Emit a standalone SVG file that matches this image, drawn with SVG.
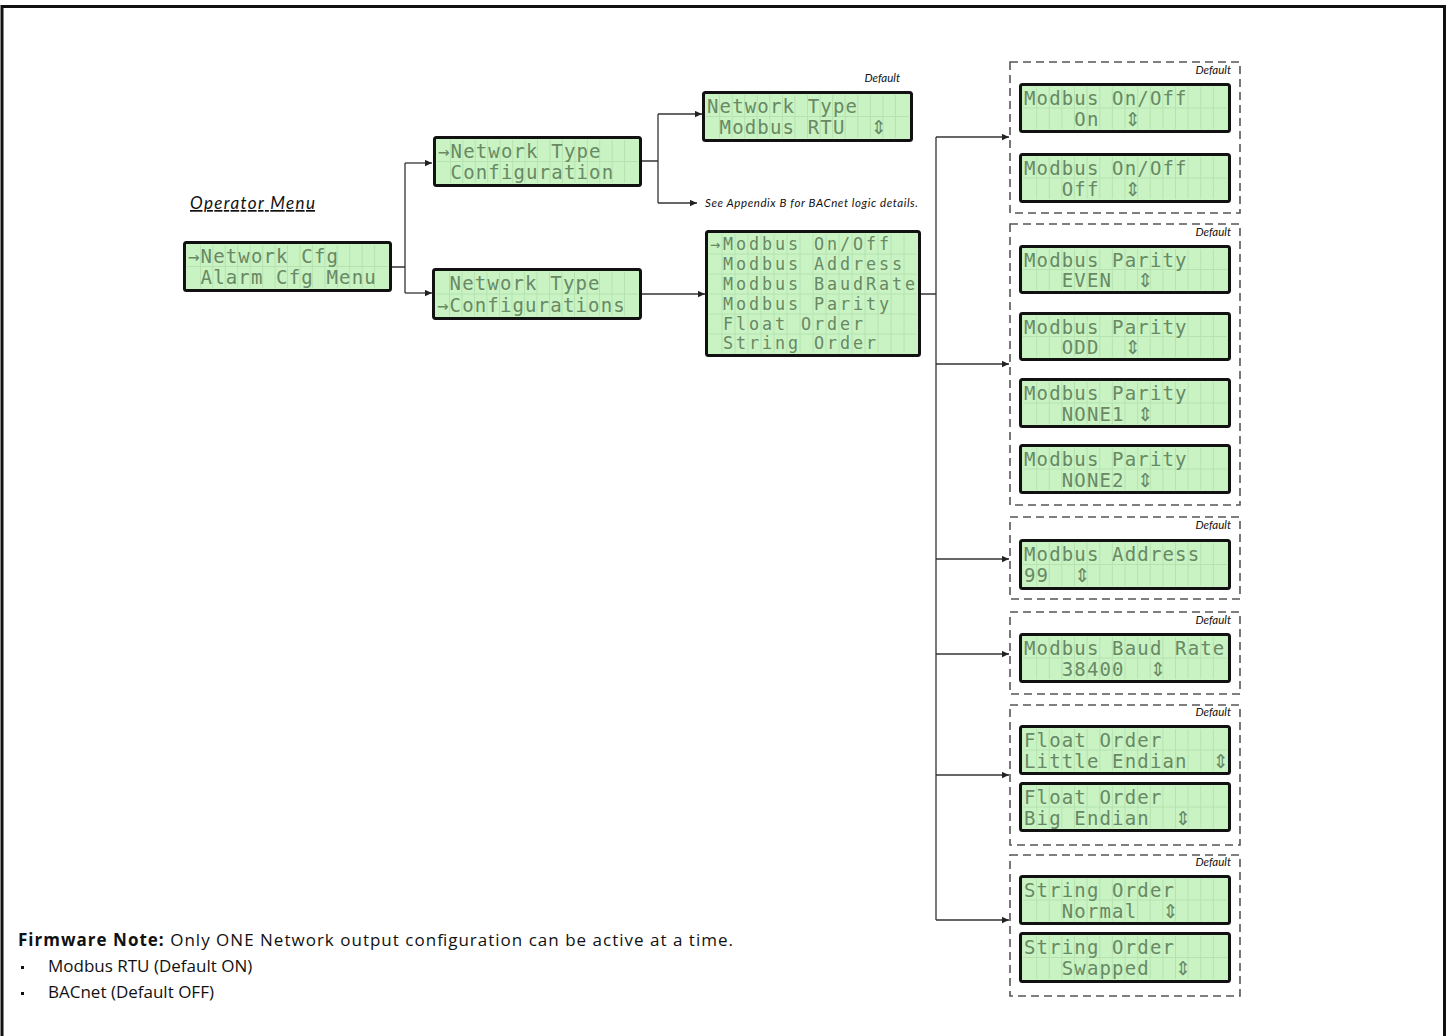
<svg xmlns="http://www.w3.org/2000/svg" xmlns:xlink="http://www.w3.org/1999/xlink" width="1449" height="1036" viewBox="0 0 1449 1036">
<style>
.lcdt{font-family:"DejaVu Sans Mono","Liberation Mono",monospace;font-size:19px;fill:#688964;letter-spacing:1.15px}
.lcdt6{font-family:"DejaVu Sans Mono","Liberation Mono",monospace;font-size:16.8px;fill:#688964;letter-spacing:2.9px}
.ud{font-family:"DejaVu Sans",sans-serif;font-size:19px}
.note{font-family:Lato,"Liberation Sans",sans-serif;font-style:italic;font-size:11.5px;fill:#111}
.grp{fill:none;stroke:#555;stroke-width:1.6;stroke-dasharray:8 5}
.con{fill:none;stroke:#333;stroke-width:1.3}
.fw{font-family:"Open Sans","Liberation Sans",sans-serif;font-size:17px;fill:#111}
</style>
<defs>
<marker id="ah" viewBox="0 0 10 10" refX="10" refY="5" markerWidth="8" markerHeight="7" markerUnits="userSpaceOnUse" orient="auto"><path d="M0,0.5 L10,5 L0,9.5 z" fill="#222"/></marker>
<symbol id="lcd" viewBox="0 0 211 50" preserveAspectRatio="none">
<rect x="1.5" y="1.5" width="208" height="47" rx="2" fill="#c9f3c3" stroke="#111" stroke-width="3"/>
<path d="M17.6,4V46M30.1,4V46M42.7,4V46M55.2,4V46M67.8,4V46M80.4,4V46M92.9,4V46M105.5,4V46M118.1,4V46M130.6,4V46M143.2,4V46M155.8,4V46M168.3,4V46M180.9,4V46M193.4,4V46M4,25H207" stroke="#b6e2b0" stroke-width="1" fill="none"/>
</symbol>
</defs>
<rect x="2" y="6.5" width="1442.5" height="1040" fill="#fff" stroke="#111" stroke-width="3"/>

<g id="connectors">
<path class="con" d="M392,267H405M405,163V293M642,161H658M658,114V203M921,294H936M936,137V920"/>
<path class="con" marker-end="url(#ah)" d="M405,163H432"/>
<path class="con" marker-end="url(#ah)" d="M405,293H432"/>
<path class="con" marker-end="url(#ah)" d="M658,114H702"/>
<path class="con" marker-end="url(#ah)" d="M658,203H697"/>
<path class="con" marker-end="url(#ah)" d="M642,294H705"/>
<path class="con" marker-end="url(#ah)" d="M936,137H1009"/>
<path class="con" marker-end="url(#ah)" d="M936,364H1009"/>
<path class="con" marker-end="url(#ah)" d="M936,559H1009"/>
<path class="con" marker-end="url(#ah)" d="M936,654H1009"/>
<path class="con" marker-end="url(#ah)" d="M936,775H1009"/>
<path class="con" marker-end="url(#ah)" d="M936,920H1009"/>
</g>

<g id="operator-menu-label">
<text x="190" y="209" font-family="Lato,'Liberation Sans',sans-serif" font-style="italic" font-size="17" fill="#111" text-decoration="underline" textLength="125" lengthAdjust="spacing">Operator Menu</text>
</g>

<g id="node-main-menu">
<use href="#lcd" x="183" y="241" width="209" height="51"/>
<text class="lcdt" x="188" y="263" xml:space="preserve">→Network Cfg</text>
<text class="lcdt" x="188" y="284" xml:space="preserve"> Alarm Cfg Menu</text>
</g>

<g id="node-network-type-cfg">
<use href="#lcd" x="433" y="136" width="209" height="51"/>
<text class="lcdt" x="438" y="158" xml:space="preserve">→Network Type</text>
<text class="lcdt" x="438" y="179" xml:space="preserve"> Configuration</text>
</g>

<g id="node-network-configs">
<use href="#lcd" x="432" y="268" width="210" height="52"/>
<text class="lcdt" x="437" y="290" xml:space="preserve"> Network Type</text>
<text class="lcdt" x="437" y="312" xml:space="preserve">→Configurations</text>
</g>

<g id="node-network-type">
<text class="note" x="900" y="82" text-anchor="end">Default</text>
<use href="#lcd" x="702" y="91" width="211" height="51"/>
<text class="lcdt" x="707" y="113" xml:space="preserve">Network Type</text>
<text class="lcdt" x="707" y="134" xml:space="preserve"> Modbus RTU  <tspan class="ud">⇕</tspan></text>
</g>

<g id="node-appendix-note">
<text class="note" x="705" y="207" textLength="213" lengthAdjust="spacing">See Appendix B for BACnet logic details.</text>
</g>

<g id="node-modbus-menu">
<rect x="706.5" y="231.5" width="213" height="124" rx="2" fill="#c9f3c3" stroke="#111" stroke-width="3"/>
<path d="M722,234V353M735,234V353M748,234V353M761,234V353M774,234V353M787,234V353M800,234V353M813,234V353M826,234V353M839,234V353M852,234V353M865,234V353M878,234V353M891,234V353M904,234V353M709,254H917M709,274H917M709,294H917M709,314H917M709,334H917" stroke="#b6e2b0" stroke-width="1" fill="none"/>
<text class="lcdt6" x="710" y="250" xml:space="preserve">→Modbus On/Off</text>
<text class="lcdt6" x="710" y="270" xml:space="preserve"> Modbus Address</text>
<text class="lcdt6" x="710" y="290" xml:space="preserve"> Modbus BaudRate</text>
<text class="lcdt6" x="710" y="310" xml:space="preserve"> Modbus Parity</text>
<text class="lcdt6" x="710" y="330" xml:space="preserve"> Float Order</text>
<text class="lcdt6" x="710" y="349" xml:space="preserve"> String Order</text>
</g>

<g id="group-onoff">
<rect class="grp" x="1010" y="62" width="230" height="151"/>
<text class="note" x="1231" y="74" text-anchor="end">Default</text>
<g id="node-onoff-on">
<use href="#lcd" x="1019" y="83" width="212" height="50"/>
<text class="lcdt" x="1024" y="105" xml:space="preserve">Modbus On/Off</text>
<text class="lcdt" x="1024" y="126" xml:space="preserve">    On  <tspan class="ud">⇕</tspan></text>
</g>
<g id="node-onoff-off">
<use href="#lcd" x="1019" y="153" width="212" height="50"/>
<text class="lcdt" x="1024" y="175" xml:space="preserve">Modbus On/Off</text>
<text class="lcdt" x="1024" y="196" xml:space="preserve">   Off  <tspan class="ud">⇕</tspan></text>
</g>
</g>

<g id="group-parity">
<rect class="grp" x="1010" y="224" width="230" height="281"/>
<text class="note" x="1231" y="236" text-anchor="end">Default</text>
<g id="node-parity-even">
<use href="#lcd" x="1019" y="245" width="212" height="49"/>
<text class="lcdt" x="1024" y="267" xml:space="preserve">Modbus Parity</text>
<text class="lcdt" x="1024" y="287" xml:space="preserve">   EVEN  <tspan class="ud">⇕</tspan></text>
</g>
<g id="node-parity-odd">
<use href="#lcd" x="1019" y="312" width="212" height="49"/>
<text class="lcdt" x="1024" y="334" xml:space="preserve">Modbus Parity</text>
<text class="lcdt" x="1024" y="354" xml:space="preserve">   ODD  <tspan class="ud">⇕</tspan></text>
</g>
<g id="node-parity-none1">
<use href="#lcd" x="1019" y="378" width="212" height="50"/>
<text class="lcdt" x="1024" y="400" xml:space="preserve">Modbus Parity</text>
<text class="lcdt" x="1024" y="421" xml:space="preserve">   NONE1 <tspan class="ud">⇕</tspan></text>
</g>
<g id="node-parity-none2">
<use href="#lcd" x="1019" y="444" width="212" height="50"/>
<text class="lcdt" x="1024" y="466" xml:space="preserve">Modbus Parity</text>
<text class="lcdt" x="1024" y="487" xml:space="preserve">   NONE2 <tspan class="ud">⇕</tspan></text>
</g>
</g>

<g id="group-address">
<rect class="grp" x="1010" y="517" width="230" height="82"/>
<text class="note" x="1231" y="529" text-anchor="end">Default</text>
<g id="node-address">
<use href="#lcd" x="1019" y="539" width="212" height="51"/>
<text class="lcdt" x="1024" y="561" xml:space="preserve">Modbus Address</text>
<text class="lcdt" x="1024" y="582" xml:space="preserve">99  <tspan class="ud">⇕</tspan></text>
</g>
</g>

<g id="group-baud">
<rect class="grp" x="1010" y="612" width="230" height="82"/>
<text class="note" x="1231" y="624" text-anchor="end">Default</text>
<g id="node-baud">
<use href="#lcd" x="1019" y="633" width="212" height="50"/>
<text class="lcdt" x="1024" y="655" xml:space="preserve">Modbus Baud Rate</text>
<text class="lcdt" x="1024" y="676" xml:space="preserve">   38400  <tspan class="ud">⇕</tspan></text>
</g>
</g>

<g id="group-float">
<rect class="grp" x="1010" y="705" width="230" height="140"/>
<text class="note" x="1231" y="716" text-anchor="end">Default</text>
<g id="node-float-little">
<use href="#lcd" x="1019" y="725" width="212" height="50"/>
<text class="lcdt" x="1024" y="747" xml:space="preserve">Float Order</text>
<text class="lcdt" x="1024" y="768" xml:space="preserve">Little Endian  <tspan class="ud">⇕</tspan></text>
</g>
<g id="node-float-big">
<use href="#lcd" x="1019" y="782" width="212" height="50"/>
<text class="lcdt" x="1024" y="804" xml:space="preserve">Float Order</text>
<text class="lcdt" x="1024" y="825" xml:space="preserve">Big Endian  <tspan class="ud">⇕</tspan></text>
</g>
</g>

<g id="group-string">
<rect class="grp" x="1010" y="855" width="230" height="141"/>
<text class="note" x="1231" y="866" text-anchor="end">Default</text>
<g id="node-string-normal">
<use href="#lcd" x="1019" y="875" width="212" height="50"/>
<text class="lcdt" x="1024" y="897" xml:space="preserve">String Order</text>
<text class="lcdt" x="1024" y="918" xml:space="preserve">   Normal  <tspan class="ud">⇕</tspan></text>
</g>
<g id="node-string-swapped">
<use href="#lcd" x="1019" y="932" width="212" height="51"/>
<text class="lcdt" x="1024" y="954" xml:space="preserve">String Order</text>
<text class="lcdt" x="1024" y="975" xml:space="preserve">   Swapped  <tspan class="ud">⇕</tspan></text>
</g>
</g>

<g id="firmware-note">
<text class="fw" x="18" y="946" textLength="715" lengthAdjust="spacing"><tspan font-weight="bold">Firmware Note:</tspan> Only ONE Network output configuration can be active at a time.</text>
<rect x="21" y="966" width="3" height="3" fill="#111"/>
<text class="fw" x="48" y="972">Modbus RTU (Default ON)</text>
<rect x="21" y="992" width="3" height="3" fill="#111"/>
<text class="fw" x="48" y="998">BACnet (Default OFF)</text>
</g>
</svg>
